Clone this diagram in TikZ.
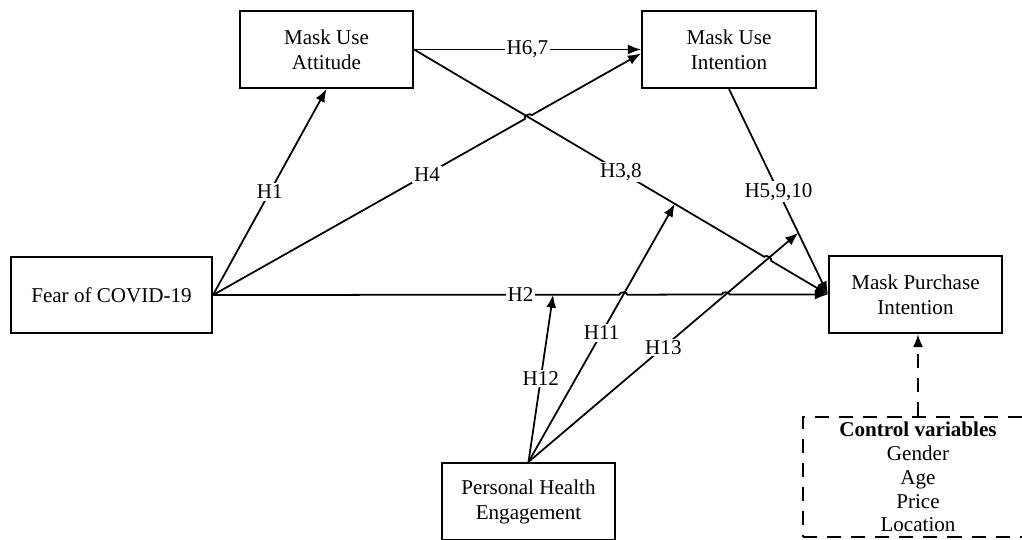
\documentclass[tikz,border=0pt]{standalone}
\usepackage{fontspec}
\setmainfont{Liberation Serif}
\usetikzlibrary{arrows.meta,positioning,calc,intersections}

\begin{document}
\begin{tikzpicture}[x=0.02cm, y=0.02cm, font=\fontsize{12}{14.2}\selectfont,
    box/.style={rectangle, draw, line width=1.2pt, minimum width=3.46cm, minimum height=1.54cm, align=center},
    hyp/.style={line width=1pt, -{Latex[length=2.6mm,width=2mm]}},
    lbl/.style={fill=white, inner sep=1pt}]
      \useasboundingbox (0,0) rectangle (1022,540);
      % Place nodes
      \node [box] (att) at (326.5,490.5) {Mask Use\\Attitude};
      \node [box, minimum width=3.48cm] (int) at (729,490.5) {Mask Use\\Intention};
      \node [box, minimum width=4.02cm, minimum height=1.52cm] (fear) at (111.5,245) {Fear of COVID-19};
      \node [box] (pur) at (915.5,245.5) {Mask Purchase\\Intention};
      \node [box] (phe) at (528.5,38.5) {Personal Health\\Engagement};
      \node [draw, line width=1.2pt, dash pattern=on 8pt off 5.7pt, minimum width=4.6cm, minimum height=2.4cm,
             inner ysep=1pt, align=center, font=\fontsize{12}{13.6}\selectfont]
             (ctrl) at (918,63) {\textbf{Control variables}\\Gender\\Age\\Price\\Location};
      % Helper points
      \coordinate (int4) at ([yshift=-0.08cm]int.west);
      \coordinate (m12) at ($(fear.east)!0.553!(pur.west)$);
      \coordinate (m11) at ($(att.east)!0.63!(pur.west)$);
      \coordinate (m13) at ($(int.south)!0.7!(pur.west)$);
      \path [name path=p2] (fear.east) -- (pur.west);
      \path [name path=p4] (fear.east) -- (int4);
      \path [name path=p38] (att.east) -- (pur.west);
      \path [name path=p11] (phe.north) -- (m11);
      \path [name path=p13] (phe.north) -- (m13);
      \path [name intersections={of=p4 and p38, by=x1}];
      \path [name intersections={of=p38 and p13, by=x2}];
      \path [name intersections={of=p2 and p11, by=x3}];
      \path [name intersections={of=p2 and p13, by=x4}];
      % Draw edges
      \draw [hyp] (fear.east) -- (att.south);
      \draw [hyp] (fear.east) -- ($(x1)!0.08cm!(fear.east)$) to[bend left=90] ($(x1)!0.08cm!(int4)$) -- (int4);
      \draw [hyp] (fear.east) -- ($(x3)!0.08cm!(fear.east)$) to[bend left=90] ($(x3)!0.08cm!(pur.west)$)
            -- ($(x4)!0.08cm!(fear.east)$) to[bend left=90] ($(x4)!0.08cm!(pur.west)$) -- (pur.west);
      \draw [hyp] (att.east) -- (int.west);
      \draw [hyp] (att.east) -- ($(x2)!0.08cm!(att.east)$) to[bend left=90] ($(x2)!0.08cm!(pur.west)$) -- (pur.west);
      \draw [hyp] (int.south) -- (pur.west);
      \draw [hyp] (phe.north) -- (m12);
      \draw [hyp] (phe.north) -- (m11);
      \draw [hyp] (phe.north) -- (m13);
      \draw [hyp, line width=1.2pt, dash pattern=on 8pt off 5.7pt] (ctrl.north) -- (ctrl.north |- pur.south);
      % Labels
      \node [lbl] (l1) at ($(fear.east)!0.5!(att.south)$) {H1};
      \node [lbl] (l2) at ($(fear.east)!0.5!(pur.west)$) {H2};
      \node [lbl] (l38) at ($(att.east)!0.5!(pur.west)$) {H3,8};
      \node [lbl] (l4) at ($(fear.east)!0.5!(int4)$) {H4};
      \node [lbl] (l5) at ($(int.south)!0.5!(pur.west)$) {H5,9,10};
      \node [lbl] (l67) at ($(att.east)!0.5!(int.west)$) {H6,7};
      \node [lbl] (l11) at ($(phe.north)!0.5!(m11)$) {H11};
      \node [lbl] (l12) at ($(phe.north)!0.5!(m12)$) {H12};
      \node [lbl] (l13) at ($(phe.north)!0.5!(m13)$) {H13};
\end{tikzpicture}
\end{document}
